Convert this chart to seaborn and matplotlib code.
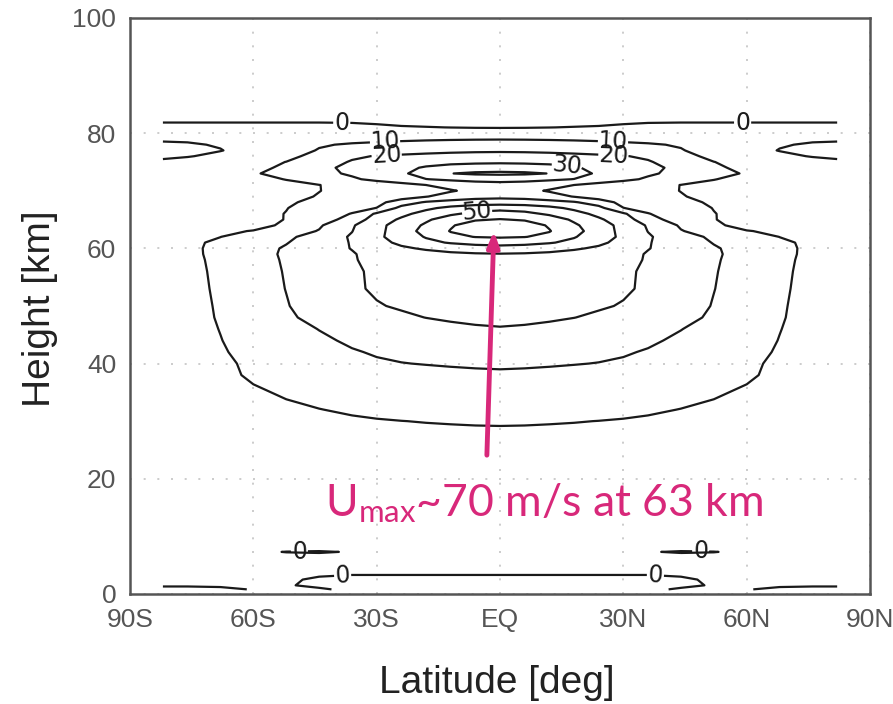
import numpy as np
import matplotlib
matplotlib.use("Agg")
import matplotlib.pyplot as plt
import seaborn as sns

# Zonal-mean zonal wind [m/s] on a latitude-height grid (northern half).
# The field is symmetric about the equator and mirrored to the south below.
lat_north = [0, 6, 12, 18, 24, 30, 36, 44, 52, 60, 68, 76, 82]
height_km = [0.8, 1.5, 2.5, 3.5, 4.5, 6.5, 7.3, 8, 12, 18, 24, 28,
             30, 32, 35, 38, 40, 42, 44, 46, 48, 50, 53, 56, 58,
             59, 60, 61, 62, 63, 64, 65, 66, 67, 68, 69, 70, 71, 72,
             73, 74, 75, 76, 77, 78, 79, 80, 81, 82, 84, 88]
u_north = [
    [-0.5, -0.5, -0.5, -0.5, -0.5, -0.5, -0.5, 0.3, 0.5, 0.1, -0.4, -0.5, -0.5],
    [-0.6, -0.6, -0.6, -0.6, -0.6, -0.6, -0.6, -0.5, 0.2, 0.4, 0.3, 0.2, 0.2],
    [-0.4, -0.4, -0.4, -0.4, -0.4, -0.4, -0.4, -0.3, 0.3, 0.5, 0.5, 0.4, 0.4],
    [0.1, 0.1, 0.1, 0.1, 0.1, 0.1, 0.1, 0.3, 0.6, 0.7, 0.6, 0.5, 0.5],
    [0.5, 0.5, 0.5, 0.5, 0.5, 0.5, 0.5, 0.6, 0.8, 0.9, 0.8, 0.7, 0.7],
    [1.2, 1.2, 1.2, 1.2, 1.1, 1.1, 1.0, 1.0, 1.0, 1.0, 0.9, 0.8, 0.8],
    [1.5, 1.5, 1.5, 1.4, 1.3, 1.0, 0.2, -0.3, -0.1, 0.6, 0.8, 0.8, 0.8],
    [1.7, 1.7, 1.7, 1.6, 1.5, 1.4, 1.3, 1.2, 1.2, 1.1, 1.0, 0.9, 0.9],
    [2.8, 2.8, 2.7, 2.6, 2.5, 2.3, 2.1, 1.9, 1.7, 1.5, 1.3, 1.1, 1.0],
    [4.6, 4.6, 4.5, 4.4, 4.2, 4.0, 3.7, 3.3, 2.9, 2.5, 2.0, 1.5, 1.2],
    [7.2, 7.2, 7.1, 6.9, 6.7, 6.4, 6.0, 5.4, 4.7, 3.9, 3.0, 2.0, 1.5],
    [9.3, 9.25, 9.2, 9.1, 9.0, 8.8, 8.5, 8.0, 7.3, 6.3, 5.0, 3.2, 2.2],
    [10.5, 10.45, 10.3, 10.15, 9.95, 9.7, 9.4, 8.8, 8.0, 7.0, 5.5, 3.5, 2.5],
    [12.5, 12.4, 12.2, 11.9, 11.5, 11.1, 10.6, 9.9, 9.1, 8.0, 6.5, 4.5, 3.3],
    [15.5, 15.3, 15.0, 14.5, 14.0, 13.3, 12.6, 11.6, 10.6, 9.3, 7.5, 5.3, 4.0],
    [18.8, 18.6, 18.2, 17.6, 16.9, 16.1, 15.2, 14.0, 12.6, 10.8, 8.6, 6.0, 4.5],
    [21.2, 21.0, 20.7, 20.3, 19.8, 19.1, 18.2, 16.6, 14.5, 11.4, 8.6, 6.6, 5.0],
    [23.8, 23.6, 23.2, 22.5, 21.7, 20.7, 19.4, 17.2, 14.8, 12.2, 9.3, 6.8, 5.2],
    [26.5, 26.2, 25.6, 24.8, 23.8, 22.6, 21.2, 18.6, 15.8, 13.0, 9.8, 7.0, 5.4],
    [29.5, 29.1, 28.3, 27.2, 25.9, 24.4, 22.8, 20.2, 17.0, 14.0, 10.2, 7.2, 5.6],
    [32.0, 31.6, 31.0, 30.1, 28.8, 27.2, 25.4, 22.6, 18.6, 14.8, 10.6, 7.4, 5.8],
    [33.5, 33.2, 32.6, 31.8, 30.8, 29.5, 27.5, 24.2, 19.5, 15.2, 10.8, 7.5, 5.9],
    [35.2, 34.9, 34.3, 33.4, 32.3, 31.0, 28.8, 25.2, 20.2, 15.6, 11.2, 7.6, 6.0],
    [37.0, 36.6, 35.8, 34.6, 33.2, 31.2, 28.9, 25.5, 20.6, 16.0, 11.5, 7.8, 6.2],
    [38.5, 38.1, 37.2, 35.9, 34.3, 32.3, 29.3, 26.0, 21.0, 16.3, 11.8, 8.0, 6.4],
    [39.5, 39.1, 38.2, 36.8, 35.0, 32.7, 29.4, 26.2, 21.3, 16.5, 12.0, 8.2, 6.5],
    [46.0, 45.3, 43.6, 41.2, 38.5, 35.0, 30.3, 26.3, 21.0, 16.2, 12.0, 8.3, 6.5],
    [54.0, 53.0, 50.8, 47.5, 42.0, 36.8, 30.5, 25.8, 19.5, 15.5, 11.6, 8.2, 6.4],
    [61.0, 60.3, 57.5, 50.7, 44.5, 38.0, 30.8, 25.5, 17.5, 14.5, 9.9, 7.8, 6.2],
    [69.5, 68.0, 60.5, 53.0, 45.5, 37.0, 29.8, 20.5, 15.6, 10.2, 9.2, 7.5, 6.0],
    [66.0, 64.8, 59.0, 51.5, 44.5, 37.0, 29.0, 18.8, 10.8, 8.5, 7.8, 7.0, 5.8],
    [60.5, 59.0, 55.0, 48.5, 41.5, 34.5, 24.5, 14.5, 10.2, 8.0, 7.2, 6.5, 5.5],
    [54.0, 52.5, 48.5, 43.5, 37.5, 31.5, 20.5, 14.0, 10.2, 7.8, 7.0, 6.3, 5.3],
    [47.0, 45.8, 42.5, 38.0, 33.0, 20.2, 16.5, 13.0, 9.8, 7.6, 6.8, 6.2, 5.2],
    [35.0, 34.5, 33.0, 31.0, 25.0, 17.0, 14.5, 11.5, 9.2, 7.4, 6.6, 6.1, 5.1],
    [27.5, 26.8, 24.5, 19.5, 15.5, 13.5, 12.0, 10.3, 8.6, 7.2, 6.5, 6.0, 5.0],
    [25.5, 23.0, 19.0, 16.0, 14.0, 12.8, 11.6, 9.9, 8.4, 7.1, 6.4, 5.8, 4.8],
    [27.0, 26.2, 24.0, 20.0, 16.5, 14.0, 12.2, 9.9, 8.5, 7.3, 6.5, 5.9, 4.9],
    [33.0, 32.6, 31.5, 29.8, 26.5, 22.5, 18.5, 13.5, 10.2, 8.2, 6.8, 6.0, 5.0],
    [42.0, 41.5, 39.8, 34.0, 28.5, 25.0, 21.5, 17.0, 12.5, 9.3, 7.0, 6.0, 5.0],
    [35.0, 34.6, 33.5, 31.0, 27.5, 24.5, 22.0, 18.0, 11.0, 8.5, 6.5, 5.5, 4.5],
    [28.5, 28.2, 27.5, 26.5, 25.0, 23.5, 20.8, 15.5, 10.1, 7.6, 5.8, 3.0, 1.5],
    [24.0, 23.8, 23.3, 22.5, 21.5, 20.5, 18.5, 12.5, 8.0, 4.5, 2.0, -0.5, -1.5],
    [18.5, 18.3, 17.8, 17.0, 16.0, 14.8, 13.2, 10.5, 6.5, 3.0, -0.3, -2.0, -2.5],
    [14.0, 13.9, 13.6, 13.1, 12.4, 11.6, 10.8, 9.3, 5.5, 2.8, 0.6, -0.8, -1.2],
    [9.5, 9.4, 9.2, 8.9, 8.5, 8.0, 7.5, 6.6, 5.0, 3.5, 2.2, 1.2, 1.0],
    [5.0, 5.0, 4.9, 4.7, 4.5, 4.3, 4.0, 3.6, 3.0, 2.4, 1.8, 1.3, 1.2],
    [-0.5, -0.4, -0.1, 0.3, 0.6, 1.0, 1.4, 1.6, 1.6, 1.6, 1.6, 1.6, 1.6],
    [-3.0, -3.0, -2.8, -2.5, -1.8, -0.8, -0.4, -0.3, -0.3, -0.3, -0.3, -0.3, -0.3],
    [-6.0, -6.0, -5.8, -5.5, -5.0, -4.5, -4.0, -3.5, -3.0, -3.0, -3.0, -3.0, -3.0],
    [-10.0, -10.0, -9.8, -9.5, -9.0, -8.5, -8.0, -7.5, -7.0, -7.0, -7.0, -7.0, -7.0],
]

contour_levels = [0, 10, 20, 30, 40, 50, 60, 70]
lat_ticks = [-90, -60, -30, 0, 30, 60, 90]
lat_tick_labels = ["90S", "60S", "30S", "EQ", "30N", "60N", "90N"]
height_ticks = [0, 20, 40, 60, 80, 100]

umax_speed = 70      # m/s
umax_height = 63     # km
umax_lat = -1.5      # deg

# ---- build the full (south + north) field ----
u_half = np.array(u_north)
lat_full = np.concatenate([-np.array(lat_north[:0:-1]), np.array(lat_north)])
u_full = np.hstack([u_half[:, :0:-1], u_half])
z = np.array(height_km)

# ---- style ----
sns.set_style("white")
plt.rcParams["font.family"] = ["Liberation Sans", "DejaVu Sans"]
plt.rcParams["mathtext.fontset"] = "custom"
plt.rcParams["mathtext.rm"] = "Lato"
plt.rcParams["mathtext.it"] = "Lato"

fig = plt.figure(figsize=(8.93, 7.04), dpi=100)
ax = fig.add_axes([0.1456, 0.1563, 0.8287, 0.8182])

frame_col = "#555555"
for s in ax.spines.values():
    s.set_color(frame_col)
    s.set_linewidth(1.8)

ax.set_xlim(-90, 90)
ax.set_ylim(0, 100)
ax.set_xticks(lat_ticks)
ax.set_xticklabels(lat_tick_labels)
ax.set_yticks(height_ticks)
ax.tick_params(direction="out", length=6, width=1.2, color=frame_col,
               labelsize=19, labelcolor="#555555", pad=4)

ax.grid(True, color="#c4c4c4", linestyle=(0, (1.2, 7)), linewidth=1.2)
ax.set_axisbelow(True)

cs = ax.contour(lat_full, z, u_full, levels=contour_levels,
                colors="#1a1a1a", linewidths=1.6)

# inline labels on selected contours (nearest line to each spot is labelled)
label_spots = [(-38.5, 82.0), (59.0, 82.0), (-38.3, 3.4), (37.8, 3.4),
               (-48.8, 7.3), (48.8, 7.3),
               (-28.0, 79.0), (27.5, 79.0),
               (-27.6, 76.6), (27.6, 76.6),
               (16.3, 74.8),
               (-5.6, 66.6)]
txts = ax.clabel(cs, levels=contour_levels, manual=label_spots, inline=True,
                 inline_spacing=2, fmt="%d", fontsize=17, colors="#1a1a1a")
for t in txts:
    t.set_fontfamily(["DejaVu Sans"])

ax.set_xlabel("Latitude [deg]", fontsize=28, color="#222222",
              ha="center", va="center")
ax.xaxis.set_label_coords(0.496, -0.1545)
ax.set_ylabel("Height [km]", fontsize=28, color="#222222",
              ha="center", va="center")
ax.yaxis.set_label_coords(-0.1210, 0.495)

# ---- annotation of the jet core ----
pink = "#d8287a"
ax.annotate("", xy=(umax_lat, umax_height), xytext=(-3.2, 24.1),
            arrowprops=dict(arrowstyle="-|>,head_length=0.9,head_width=0.35",
                            color=pink, lw=3.5, shrinkA=0, shrinkB=0))
ax.text(-42.6, 13.6,
        r"U$_{\mathrm{max}}$" + f"~{umax_speed} m/s at {umax_height} km",
        fontsize=32, color=pink, ha="left", va="baseline",
        fontfamily=["Lato", "DejaVu Sans"])

fig.savefig("out.png", dpi=100)
